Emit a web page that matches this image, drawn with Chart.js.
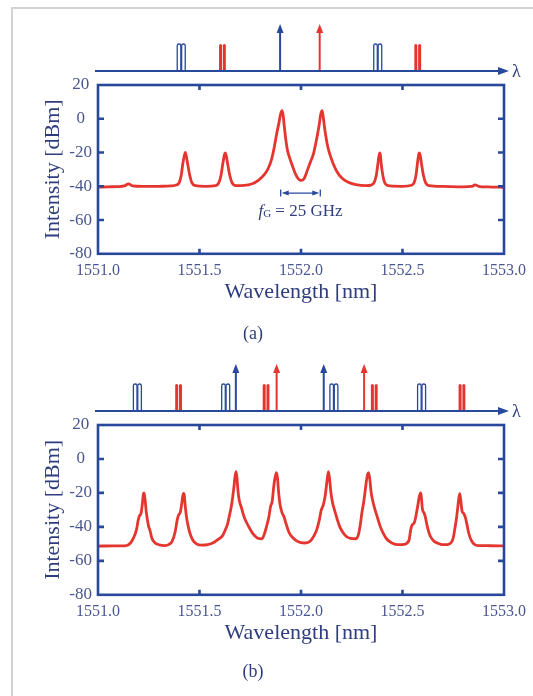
<!DOCTYPE html>
<html>
<head>
<meta charset="utf-8">
<script src="https://cdn.jsdelivr.net/npm/chart.js@4.4.1/dist/chart.umd.min.js"></script>
<style>
  html, body { margin: 0; padding: 0; background: #fff; }
  body { width: 533px; height: 696px; position: relative; overflow: hidden; }
  .frame { position: absolute; left: 11px; top: 7px; width: 540px; height: 700px;
           border-left: 2px solid #d2d2d2; border-top: 2px solid #d2d2d2; }
  canvas { position: absolute; left: 0; }
  #chartA { top: 0; }
  #chartB { top: 340px; }
</style>
</head>
<body>
<div class="frame"></div>
<canvas id="chartA" width="533" height="350"></canvas>
<canvas id="chartB" width="533" height="348"></canvas>
<script>
// spectrum (a): two pumps, 25 GHz apart
var wavelengthA = [
  1551.00, 1551.05, 1551.10, 1551.13, 1551.15, 1551.17, 1551.22, 1551.30, 1551.36,
  1551.385, 1551.40, 1551.41, 1551.418, 1551.426, 1551.430, 1551.434, 1551.442, 1551.452, 1551.462, 1551.48,
  1551.53, 1551.58,
  1551.595, 1551.606, 1551.615, 1551.623, 1551.627, 1551.631, 1551.639, 1551.649, 1551.66, 1551.68,
  1551.72, 1551.76, 1551.79, 1551.82, 1551.84, 1551.855, 1551.868, 1551.88, 1551.892, 1551.90, 1551.907,
  1551.912, 1551.919, 1551.927, 1551.934, 1551.945, 1551.958, 1551.972, 1551.986, 1552.00,
  1552.015, 1552.03, 1552.045, 1552.062, 1552.077, 1552.089, 1552.097, 1552.104, 1552.109, 1552.118,
  1552.13, 1552.142, 1552.158, 1552.178, 1552.20, 1552.23, 1552.27, 1552.32,
  1552.345, 1552.36, 1552.371, 1552.379, 1552.387, 1552.391, 1552.395, 1552.403, 1552.412, 1552.423, 1552.44,
  1552.50, 1552.545,
  1552.558, 1552.567, 1552.574, 1552.580, 1552.583, 1552.587, 1552.594, 1552.603, 1552.614, 1552.63,
  1552.70, 1552.80, 1552.84, 1552.858, 1552.875, 1552.92, 1553.00
];
var intensityA = [
  -40.5, -40.3, -40.2, -39.8, -38.6, -39.8, -40.1, -40.0, -39.8,
  -39.3, -37.8, -33.5, -26.5, -21.5, -20.0, -21.5, -27.0, -33.5, -37.8, -39.6,
  -40.0, -39.6,
  -38.0, -33.5, -26.5, -21.2, -20.2, -21.5, -27.0, -33.5, -37.8, -39.6,
  -39.5, -38.5, -36.5, -33.0, -29.0, -24.0, -17.0, -9.0, -2.0, 3.0, 4.8,
  2.0, -6.0, -14.0, -19.0, -23.5, -28.0, -32.5, -35.5, -36.5,
  -35.5, -31.0, -26.0, -20.5, -12.0, -4.0, 2.5, 4.8, 1.5, -7.0,
  -15.5, -21.0, -26.5, -31.5, -35.0, -37.5, -39.0, -39.6,
  -39.3, -37.8, -33.5, -26.5, -20.2, -21.5, -26.5, -33.5, -37.8, -39.3, -39.8,
  -40.0, -39.4,
  -37.6, -33.0, -26.0, -21.0, -20.2, -21.5, -27.0, -33.5, -38.0, -39.6,
  -40.1, -40.3, -40.1, -39.2, -40.0, -40.4, -40.6
];

// spectrum (b): four pumps
var wavelengthB = [
  1551.00, 1551.08, 1551.14, 1551.16, 1551.175, 1551.19, 1551.198, 1551.204, 1551.212, 1551.218,
  1551.224, 1551.227, 1551.232, 1551.238, 1551.245, 1551.25, 1551.256, 1551.265, 1551.28, 1551.30,
  1551.33, 1551.35, 1551.365, 1551.38, 1551.39, 1551.397, 1551.405, 1551.413, 1551.42, 1551.424,
  1551.43, 1551.437, 1551.445, 1551.455, 1551.468, 1551.485, 1551.51, 1551.54, 1551.565, 1551.59,
  1551.613, 1551.628, 1551.638, 1551.648, 1551.656, 1551.664, 1551.67, 1551.675, 1551.680, 1551.684,
  1551.689, 1551.696, 1551.705, 1551.718, 1551.73, 1551.743, 1551.76, 1551.785, 1551.808, 1551.82,
  1551.832, 1551.842, 1551.85, 1551.858, 1551.866, 1551.873, 1551.879, 1551.884, 1551.89, 1551.897,
  1551.906, 1551.916, 1551.926, 1551.94, 1551.955, 1551.975, 1552.00, 1552.02, 1552.045, 1552.065,
  1552.078, 1552.09, 1552.10, 1552.11, 1552.12, 1552.128, 1552.135, 1552.14, 1552.147, 1552.155,
  1552.165, 1552.177, 1552.19, 1552.205, 1552.222, 1552.244, 1552.268, 1552.283, 1552.293, 1552.300,
  1552.308, 1552.315, 1552.321, 1552.328, 1552.333, 1552.339, 1552.346, 1552.355, 1552.365, 1552.378,
  1552.39, 1552.406, 1552.423, 1552.448, 1552.479, 1552.51, 1552.525, 1552.533, 1552.54, 1552.547,
  1552.558, 1552.567, 1552.576, 1552.583, 1552.590, 1552.594, 1552.598, 1552.606, 1552.612, 1552.619,
  1552.627, 1552.637, 1552.654, 1552.674, 1552.697, 1552.722, 1552.74, 1552.75, 1552.758, 1552.764,
  1552.771, 1552.777, 1552.782, 1552.787, 1552.794, 1552.801, 1552.81, 1552.819, 1552.826, 1552.839,
  1552.856, 1552.874, 1552.93, 1553.00
];
var intensityB = [
  -51.3, -51.2, -51.0, -49.5, -46.5, -41.5, -36.0, -33.5, -32.0, -27.0,
  -20.5, -20.0, -24.0, -31.5, -37.0, -40.0, -42.0, -46.5, -49.3, -50.5,
  -51.0, -50.3, -48.5, -43.0, -36.0, -33.0, -31.5, -26.0, -20.3, -20.5,
  -28.0, -35.0, -40.0, -44.5, -48.0, -50.0, -50.8, -50.5, -49.5, -47.5,
  -45.3, -41.5, -38.4, -33.0, -28.5, -22.0, -16.0, -10.5, -7.5, -10.5,
  -18.0, -24.5, -28.0, -33.5, -37.0, -40.0, -43.5, -46.5, -47.0, -44.0,
  -39.0, -34.0, -28.0, -25.0, -16.0, -10.5, -8.0, -11.0, -20.0, -27.0,
  -31.5, -34.0, -38.0, -43.0, -45.8, -48.0, -49.3, -49.5, -48.5, -45.0,
  -41.5, -36.0, -30.0, -27.0, -21.0, -13.0, -7.5, -11.0, -19.5, -25.5,
  -30.0, -35.0, -39.7, -43.0, -45.5, -46.8, -47.0, -44.5, -38.0, -31.7,
  -26.0, -20.0, -14.0, -9.0, -8.0, -12.0, -20.0, -25.5, -30.0, -35.0,
  -39.7, -44.0, -47.3, -49.5, -50.5, -50.3, -49.2, -47.5, -42.0, -39.0,
  -37.6, -33.0, -27.0, -22.0, -20.0, -24.0, -29.5, -31.7, -34.0, -38.0,
  -42.0, -45.5, -48.3, -49.6, -50.5, -50.4, -49.2, -46.5, -41.0, -36.5,
  -30.0, -23.5, -20.5, -24.5, -31.0, -32.0, -34.5, -39.5, -43.6, -48.0,
  -50.5, -51.0, -51.1, -51.2
];

// wavelength ticks and intensity ticks
var wavelengthTicks = [1551.0, 1551.5, 1552.0, 1552.5, 1553.0];
var intensityTicks = [20, 0, -20, -40, -60, -80];

// line schematic above each plot (positions in nm)
var bluePairA = [1551.41, 1552.378];
var redPairA = [1551.613, 1552.575];
var blueArrowA = [1551.897];
var redArrowA = [1552.092];

var bluePairB = [1551.194, 1551.629, 1552.162, 1552.594];
var redPairB = [1551.397, 1551.828, 1552.361, 1552.793];
var blueArrowB = [1551.679, 1552.112];
var redArrowB = [1551.880, 1552.311];

// pump spacing marker in (a)
var fgSpan = [1551.9, 1552.095];
var fgLevel = -44;
var fgLabelLevel = -55;

var SERIF = '"Liberation Serif", "Times New Roman", serif';
var AXIS_BLUE = '#28489c';
var TEXT_BLUE = '#2f3d7e';
var TICK_BLUE = '#4a5690';
var TRACE_RED = '#e4352f';

function drawLoops(ctx, x, y0, h) {
    ctx.lineWidth = 1.3;
    ctx.strokeStyle = AXIS_BLUE;
    [-2.2, 2.2].forEach(function(dx) {
        var cx = x + dx, r = 1.8;
        ctx.beginPath();
        ctx.moveTo(cx - r, y0);
        ctx.lineTo(cx - r, y0 - h + r);
        ctx.arc(cx, y0 - h + r, r, Math.PI, 0);
        ctx.lineTo(cx + r, y0);
        ctx.stroke();
    });
}

function drawSpikes(ctx, x, y0, h) {
    ctx.fillStyle = TRACE_RED;
    [-1.9, 1.9].forEach(function(dx) {
        var cx = x + dx, r = 1.5;
        ctx.beginPath();
        ctx.moveTo(cx - r, y0);
        ctx.lineTo(cx - r, y0 - h + r);
        ctx.arc(cx, y0 - h + r, r, Math.PI, 0);
        ctx.lineTo(cx + r, y0);
        ctx.closePath();
        ctx.fill();
    });
}

function drawArrow(ctx, x, y0, h, color) {
    ctx.strokeStyle = color;
    ctx.fillStyle = color;
    ctx.lineWidth = 2;
    ctx.beginPath();
    ctx.moveTo(x, y0);
    ctx.lineTo(x, y0 - h + 8);
    ctx.stroke();
    ctx.beginPath();
    ctx.moveTo(x, y0 - h);
    ctx.lineTo(x - 3.5, y0 - h + 9);
    ctx.lineTo(x + 3.5, y0 - h + 9);
    ctx.closePath();
    ctx.fill();
}

var schematicPlugin = {
    id: 'schematic',
    afterDraw: function(chart, args, opts) {
        var ctx = chart.ctx, area = chart.chartArea, xs = chart.scales.x;
        var y0 = area.top - 14;
        var tip = area.right + 5;
        ctx.save();
        opts.bluePairs.forEach(function(w) { drawLoops(ctx, xs.getPixelForValue(w), y0, 27); });
        opts.redPairs.forEach(function(w) { drawSpikes(ctx, xs.getPixelForValue(w), y0, 27); });
        opts.blueArrows.forEach(function(w) { drawArrow(ctx, xs.getPixelForValue(w), y0, 47, AXIS_BLUE); });
        opts.redArrows.forEach(function(w) { drawArrow(ctx, xs.getPixelForValue(w), y0, 47, TRACE_RED); });

        ctx.strokeStyle = AXIS_BLUE;
        ctx.fillStyle = AXIS_BLUE;
        ctx.lineWidth = 2;
        ctx.beginPath();
        ctx.moveTo(area.left - 3, y0);
        ctx.lineTo(tip - 8, y0);
        ctx.stroke();
        ctx.beginPath();
        ctx.moveTo(tip, y0);
        ctx.lineTo(tip - 11, y0 - 4);
        ctx.lineTo(tip - 11, y0 + 4);
        ctx.closePath();
        ctx.fill();

        ctx.fillStyle = TEXT_BLUE;
        ctx.font = '18px ' + SERIF;
        ctx.textAlign = 'left';
        ctx.textBaseline = 'middle';
        ctx.fillText('\u03bb', tip + 3, y0 + 1);
        ctx.restore();
    }
};

// box around the plot with inward tick marks on all four sides
var framePlugin = {
    id: 'boxFrame',
    afterDatasetsDraw: function(chart) {
        var ctx = chart.ctx, a = chart.chartArea, xs = chart.scales.x, ys = chart.scales.y;
        ctx.save();
        ctx.strokeStyle = AXIS_BLUE;
        ctx.lineWidth = 2.6;
        ctx.strokeRect(a.left, a.top, a.right - a.left, a.bottom - a.top);
        ctx.beginPath();
        xs.ticks.forEach(function(t, i) {
            if (i === 0 || i === xs.ticks.length - 1) return;
            var px = xs.getPixelForValue(t.value);
            ctx.moveTo(px, a.bottom); ctx.lineTo(px, a.bottom - 5);
            ctx.moveTo(px, a.top); ctx.lineTo(px, a.top + 5);
        });
        ys.ticks.forEach(function(t, i) {
            if (i === 0 || i === ys.ticks.length - 1) return;
            var py = ys.getPixelForValue(t.value);
            ctx.moveTo(a.left, py); ctx.lineTo(a.left + 6, py);
            ctx.moveTo(a.right, py); ctx.lineTo(a.right - 6, py);
        });
        ctx.stroke();
        ctx.restore();
    }
};

var spacingPlugin = {
    id: 'spacingMark',
    afterDatasetsDraw: function(chart, args, opts) {
        if (!opts.span) return;
        var ctx = chart.ctx, xs = chart.scales.x, ys = chart.scales.y;
        var x1 = xs.getPixelForValue(opts.span[0]);
        var x2 = xs.getPixelForValue(opts.span[1]);
        var y = ys.getPixelForValue(opts.level);
        ctx.save();
        ctx.strokeStyle = AXIS_BLUE;
        ctx.fillStyle = AXIS_BLUE;
        ctx.lineWidth = 1.3;
        ctx.beginPath();
        ctx.moveTo(x1, y - 3.5); ctx.lineTo(x1, y + 3.5);
        ctx.moveTo(x2, y - 3.5); ctx.lineTo(x2, y + 3.5);
        ctx.moveTo(x1 + 6, y); ctx.lineTo(x2 - 6, y);
        ctx.stroke();
        ctx.beginPath();
        ctx.moveTo(x1 + 1, y); ctx.lineTo(x1 + 8, y - 2.5); ctx.lineTo(x1 + 8, y + 2.5); ctx.closePath();
        ctx.moveTo(x2 - 1, y); ctx.lineTo(x2 - 8, y - 2.5); ctx.lineTo(x2 - 8, y + 2.5); ctx.closePath();
        ctx.fill();

        // f_G = 25 GHz
        var ty = ys.getPixelForValue(opts.labelLevel);
        var parts = [
            { text: 'f', font: 'italic 17px ' + SERIF, dy: 0 },
            { text: 'G', font: '11px ' + SERIF, dy: 3 },
            { text: ' = 25 GHz', font: '17px ' + SERIF, dy: 0 }
        ];
        var total = 0;
        parts.forEach(function(p) { ctx.font = p.font; p.w = ctx.measureText(p.text).width; total += p.w; });
        var tx = (x1 + x2) / 2 - total / 2;
        ctx.fillStyle = TEXT_BLUE;
        ctx.textAlign = 'left';
        ctx.textBaseline = 'middle';
        parts.forEach(function(p) {
            ctx.font = p.font;
            ctx.fillText(p.text, tx, ty + p.dy);
            tx += p.w;
        });
        ctx.restore();
    }
};

function buildChart(id, wl, dbm, caption, marks, spacing, fitX) {
    var points = wl.map(function(w, i) { return { x: w, y: dbm[i] }; });
    return new Chart(document.getElementById(id), {
        type: 'line',
        data: {
            datasets: [{
                data: points,
                borderColor: TRACE_RED,
                borderWidth: 2.8,
                pointRadius: 0,
                cubicInterpolationMode: 'monotone',
                fill: false
            }]
        },
        options: {
            responsive: false,
            animation: false,
            layout: { padding: { top: 85, right: 27, bottom: 0, left: 0 } },
            plugins: {
                legend: { display: false },
                tooltip: { enabled: false },
                title: {
                    display: true,
                    position: 'bottom',
                    text: caption,
                    color: TEXT_BLUE,
                    font: { family: SERIF, size: 18, weight: 'normal' },
                    padding: { top: 0, bottom: 5 }
                },
                schematic: marks,
                spacingMark: spacing
            },
            scales: {
                x: {
                    type: 'linear',
                    min: wavelengthTicks[0],
                    max: wavelengthTicks[wavelengthTicks.length - 1],
                    grid: { display: false, drawTicks: false },
                    border: { display: false },
                    afterBuildTicks: function(s) {
                        s.ticks = wavelengthTicks.map(function(v) { return { value: v }; });
                    },
                    ticks: {
                        padding: 7,
                        maxRotation: 0,
                        autoSkip: false,
                        color: TICK_BLUE,
                        font: { family: SERIF, size: 16 },
                        callback: function(v) { return Number(v).toFixed(1); }
                    },
                    title: {
                        display: true,
                        text: 'Wavelength [nm]',
                        color: TEXT_BLUE,
                        font: { family: SERIF, size: 22 },
                        padding: { top: 0, bottom: fitX.titlePad }
                    },
                    afterFit: function(s) { s.height = fitX.height; }
                },
                y: {
                    min: intensityTicks[intensityTicks.length - 1],
                    max: intensityTicks[0],
                    grid: { display: false, drawTicks: false },
                    border: { display: false },
                    afterBuildTicks: function(s) {
                        s.ticks = intensityTicks.slice().reverse().map(function(v) { return { value: v }; });
                    },
                    ticks: {
                        padding: 6,
                        crossAlign: 'center',
                        color: TICK_BLUE,
                        font: { family: SERIF, size: 17 }
                    },
                    title: {
                        display: true,
                        text: 'Intensity [dBm]',
                        color: TEXT_BLUE,
                        font: { family: SERIF, size: 22 },
                        padding: { top: 40, bottom: 0 }
                    },
                    afterFit: function(s) { s.width = 98; }
                }
            }
        },
        plugins: [framePlugin, schematicPlugin, spacingPlugin]
    });
}

buildChart('chartA', wavelengthA, intensityA, '(a)',
    { bluePairs: bluePairA, redPairs: redPairA, blueArrows: blueArrowA, redArrows: redArrowA },
    { span: fgSpan, level: fgLevel, labelLevel: fgLabelLevel },
    { height: 69.6, titlePad: 17.5 });

buildChart('chartB', wavelengthB, intensityB, '(b)',
    { bluePairs: bluePairB, redPairs: redPairB, blueArrows: blueArrowB, redArrows: redArrowB },
    false,
    { height: 66.6, titlePad: 15 });
</script>
</body>
</html>
